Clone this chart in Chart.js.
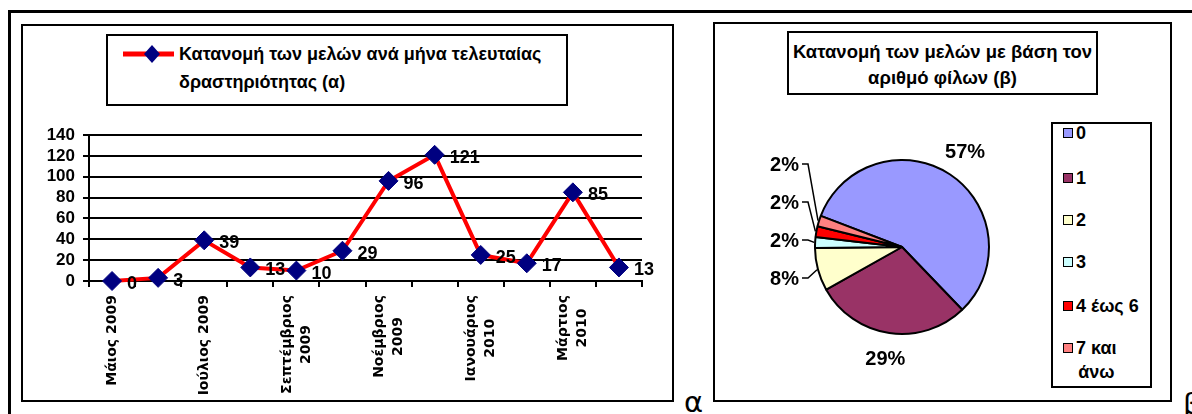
<!DOCTYPE html>
<html><head><meta charset="utf-8">
<script src="https://cdn.jsdelivr.net/npm/chart.js@4.4.0/dist/chart.umd.min.js"></script>
<style>
body{margin:0;width:1192px;height:414px;background:#fff;position:relative;overflow:hidden;font-family:"Liberation Sans",Arial,sans-serif;color:#000}
.abs{position:absolute}
#outerTop{left:8px;top:10px;width:1184px;height:3px;background:#000}
#outerLeft{left:8px;top:10px;width:3px;height:404px;background:#000}
#frameA{left:21px;top:24px;width:649px;height:374px;border:2px solid #000}
#frameB{left:713px;top:22px;width:455px;height:376px;border:2px solid #000}
#legA{left:106px;top:34px;width:458px;height:68px;border:2px solid #000;background:#fff}
#legAText{left:179px;top:40px;font-weight:bold;font-size:18px;line-height:28px;white-space:nowrap}
#titleB{left:787px;top:31px;width:307px;height:60px;border:2px solid #000;background:#fff}
#titleBText{left:787px;top:39px;width:311px;text-align:center;font-weight:bold;font-size:18.5px;line-height:26px}
#legB{left:1051px;top:122px;width:97px;height:262px;border:2px solid #000;background:#fff}
.litem{position:absolute;left:1063px;display:flex;align-items:flex-start;font-weight:bold;font-size:18px;line-height:24px}
.sw{width:8px;height:8px;border:1.5px solid #000;margin-top:7px;margin-right:3px}
.ltxt{display:inline-block;text-align:center}
#canA{left:23px;top:110px}
#canB{left:715px;top:100px}
.docchar{font-family:"DejaVu Sans",sans-serif;font-size:29px;line-height:1}
</style>
</head><body>
<div class="abs" id="outerTop"></div>
<div class="abs" id="outerLeft"></div>
<div class="abs" id="frameA"></div>
<div class="abs" id="frameB"></div>
<canvas class="abs" id="canA" width="648" height="290" style="width:648px;height:290px"></canvas>
<canvas class="abs" id="canB" width="330" height="300" style="width:330px;height:300px"></canvas>
<div class="abs" id="legA"></div>
<svg class="abs" style="left:120px;top:44px" width="58" height="22">
  <line x1="3" y1="10" x2="54" y2="10" stroke="#FF0000" stroke-width="5"/>
  <polygon points="32,1 40,10 32,19 24,10" fill="#000080"/>
</svg>
<div class="abs" id="legAText"></div>
<div class="abs" id="titleB"></div>
<div class="abs" id="titleBText"></div>
<div class="abs" id="legB"></div>
<div class="abs docchar" style="left:684px;top:388px">α</div>
<div class="abs docchar" style="left:1183px;top:390px">β</div>
<script>
// ---- Data ----
const months = ["Μάιος 2009","Ιούνιος 2009","Ιούλιος 2009","Αύγουστος 2009","Σεπτέμβριος 2009","Οκτώβριος 2009","Νοέμβριος 2009","Δεκέμβριος 2009","Ιανουάριος 2010","Φεβρουάριος 2010","Μάρτιος 2010","Απρίλιος 2010"];
const members = [0, 3, 39, 13, 10, 29, 96, 121, 25, 17, 85, 13];
const monthTickLabels = [["Μάιος 2009"], [], ["Ιούλιος 2009"], [], ["Σεπτέμβριος","2009"], [], ["Νοέμβριος","2009"], [], ["Ιανουάριος","2010"], [], ["Μάρτιος","2010"], []];
const yTicks = [0, 20, 40, 60, 80, 100, 120, 140];
const lineLegendLines = ["Κατανομή των μελών ανά μήνα τελευταίας", "δραστηριότητας (α)"];

const friendCats = ["0", "1", "2", "3", "4 έως 6", "7 και άνω"];
const friendShares = [57, 29, 8, 2, 2, 2];
const pieTitleLines = ["Κατανομή των μελών με βάση τον", "αριθμό φίλων (β)"];
const pieColors = ["#9999FF", "#993366", "#FFFFCC", "#CCFFFF", "#FF0000", "#FF8080"];

// ---- HTML texts ----
document.getElementById('legAText').innerHTML = lineLegendLines.join('<br>');
document.getElementById('titleBText').innerHTML = pieTitleLines.join('<br>');
const legItemTops = [121, 166, 208, 250, 294, 336];
friendCats.forEach((c, i) => {
  const d = document.createElement('div');
  d.className = 'litem';
  d.style.top = legItemTops[i] + 'px';
  let lines = [c];
  if (c.length > 7) { const k = c.lastIndexOf(' '); lines = [c.slice(0, k), c.slice(k + 1)]; }
  d.innerHTML = '<div class="sw" style="background:' + pieColors[i] + '"></div><span class="ltxt">' + lines.join('<br>') + '</span>';
  document.body.appendChild(d);
});

// ---- Line chart ----
const lblPlugin = {
  id: 'lbls',
  afterDatasetsDraw(chart) {
    const ctx = chart.ctx;
    const meta = chart.getDatasetMeta(0);
    ctx.save();
    ctx.font = 'bold 18px "Liberation Sans", Arial, sans-serif';
    ctx.fillStyle = '#000';
    ctx.textAlign = 'left';
    ctx.textBaseline = 'middle';
    meta.data.forEach((p, i) => ctx.fillText(String(members[i]), p.x + 15, p.y + 3));
    // x labels
    const xs = chart.scales.x;
    ctx.font = 'bold 14px "DejaVu Sans", sans-serif';
    ctx.textAlign = 'center';
    const top = xs.top + 14, lh = 19;
    monthTickLabels.forEach((lines, i) => {
      if (!lines.length) return;
      const x = xs.getPixelForValue(i);
      const w = Math.max(...lines.map(t => ctx.measureText(t).width));
      ctx.save();
      ctx.translate(x, top);
      ctx.rotate(-Math.PI / 2);
      lines.forEach((t, k) => ctx.fillText(t, -w / 2, (k - (lines.length - 1) / 2) * lh));
      ctx.restore();
    });
    ctx.restore();
  }
};
new Chart(document.getElementById('canA'), {
  type: 'line',
  data: { labels: months, datasets: [{
    data: members, borderColor: '#FF0000', borderWidth: 4, tension: 0,
    pointStyle: 'rectRot', pointRadius: 9.5, pointHoverRadius: 9.5,
    pointBackgroundColor: '#000080', pointBorderColor: '#000080', pointBorderWidth: 1, clip: false
  }]},
  options: {
    responsive: false, animation: false, devicePixelRatio: 1,
    layout: { padding: { top: 25, right: 29, left: 0, bottom: 0 } },
    plugins: { legend: { display: false }, tooltip: { enabled: false } },
    scales: {
      x: { type: 'category', offset: true,
        grid: { drawOnChartArea: false, drawTicks: true, tickLength: 6, color: '#000', lineWidth: 2, offset: true },
        border: { color: '#000', width: 2 },
        ticks: { display: false },
        afterFit(s) { s.height = 119; } },
      y: { min: 0, max: 140,
        afterBuildTicks(s) { s.ticks = yTicks.map(v => ({ value: v })); },
        grid: { color: '#000', lineWidth: 2, tickLength: 6 },
        border: { color: '#000', width: 2 },
        ticks: { autoSkip: false, color: '#000', padding: 8, font: { family: '"Liberation Sans", Arial, sans-serif', size: 17, weight: 'bold' } },
        afterFit(s) { s.width = 66; } }
    }
  },
  plugins: [lblPlugin]
});

// ---- Pie chart ----
const pieLbl = {
  id: 'pieLbl',
  afterDatasetsDraw(chart) {
    const ctx = chart.ctx;
    const arcs = chart.getDatasetMeta(0).data;
    const total = friendShares.reduce((a, b) => a + b, 0);
    ctx.save();
    ctx.font = 'bold 20px "Liberation Sans", Arial, sans-serif';
    ctx.fillStyle = '#000';
    ctx.strokeStyle = '#000';
    ctx.lineWidth = 1.5;
    ctx.textBaseline = 'middle';
    let prevY = null;
    arcs.forEach((a, i) => {
      const mid = (a.startAngle + a.endAngle) / 2;
      const r = a.outerRadius;
      const pct = Math.round(friendShares[i] / total * 100) + '%';
      if (friendShares[i] / total >= 0.2) {
        ctx.textAlign = 'center';
        ctx.fillText(pct, a.x + (r + 27) * Math.cos(mid), a.y + (r + 27) * Math.sin(mid));
      } else {
        let y = a.y + (r + 33) * Math.sin(mid);
        if (prevY !== null) y = Math.min(y, prevY - 38);
        prevY = y;
        const xr = a.x - r - 16;
        ctx.textAlign = 'right';
        ctx.fillText(pct, xr, y + 1);
        const ax = a.x + (r + 1) * Math.cos(mid), ay = a.y + (r + 1) * Math.sin(mid);
        ctx.beginPath();
        ctx.moveTo(xr + 3, y);
        ctx.lineTo(xr + 9, y);
        ctx.lineTo(ax, ay);
        ctx.stroke();
      }
    });
    ctx.restore();
  }
};
new Chart(document.getElementById('canB'), {
  type: 'pie',
  data: { labels: friendCats, datasets: [{ data: friendShares, backgroundColor: pieColors, borderColor: '#000', borderWidth: 2 }] },
  options: {
    responsive: false, animation: false, devicePixelRatio: 1, rotation: 291,
    layout: { padding: { left: 99, right: 55, top: 59, bottom: 65 } },
    plugins: { legend: { display: false }, tooltip: { enabled: false } }
  },
  plugins: [pieLbl]
});
</script>
</body></html>
